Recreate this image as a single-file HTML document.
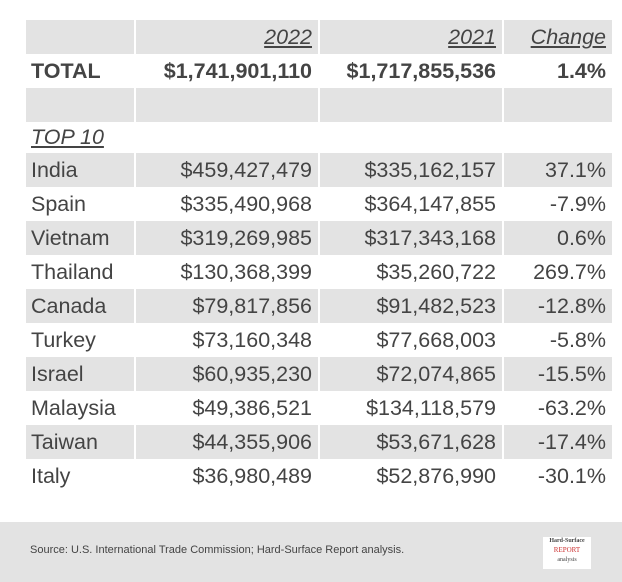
<!DOCTYPE html>
<html><head><style>
body{margin:0;width:622px;height:582px;background:#fff;position:relative;overflow:hidden;font-family:"Liberation Sans",Arial,sans-serif;color:#444}
.r{position:absolute;left:26px;width:586px;height:34px}
.c{position:absolute;top:0;height:34px;line-height:34px;font-size:21.5px;box-sizing:border-box;white-space:nowrap}
.g .c{background:#e3e3e3}
.c1{left:0;width:108px;padding-left:5px}
.c2{left:110px;width:182px;text-align:right;padding-right:6px}
.c3{left:294px;width:182px;text-align:right;padding-right:6px}
.c4{left:478px;width:108px;text-align:right;padding-right:6px}
.b{font-weight:bold}
.u{text-decoration:underline;font-style:italic}
#f{position:absolute;left:0;top:522px;width:622px;height:60px;background:#e3e3e3}
#f span{position:absolute;left:30px;top:22px;font-size:11px;color:#444}
#logo{position:absolute;left:543px;top:15px;width:48px;height:32px;background:#fff;font-size:6px;text-align:center;line-height:9px;font-family:"Liberation Serif",serif}
</style></head><body>
<div class="r g" style="top:20px"><div class="c c1"></div><div class="c c2 u">2022</div><div class="c c3 u">2021</div><div class="c c4 u">Change</div></div>
<div class="r b" style="top:54px"><div class="c c1 b">TOTAL</div><div class="c c2 b">$1,741,901,110</div><div class="c c3 b">$1,717,855,536</div><div class="c c4 b">1.4%</div></div>
<div class="r g" style="top:88px"><div class="c c1"></div><div class="c c2"></div><div class="c c3"></div><div class="c c4"></div></div>
<div class="r" style="top:120px"><div class="c c1 u">TOP 10</div></div>
<div class="r g" style="top:153px"><div class="c c1">India</div><div class="c c2">$459,427,479</div><div class="c c3">$335,162,157</div><div class="c c4">37.1%</div></div>
<div class="r" style="top:187px"><div class="c c1">Spain</div><div class="c c2">$335,490,968</div><div class="c c3">$364,147,855</div><div class="c c4">-7.9%</div></div>
<div class="r g" style="top:221px"><div class="c c1">Vietnam</div><div class="c c2">$319,269,985</div><div class="c c3">$317,343,168</div><div class="c c4">0.6%</div></div>
<div class="r" style="top:255px"><div class="c c1">Thailand</div><div class="c c2">$130,368,399</div><div class="c c3">$35,260,722</div><div class="c c4">269.7%</div></div>
<div class="r g" style="top:289px"><div class="c c1">Canada</div><div class="c c2">$79,817,856</div><div class="c c3">$91,482,523</div><div class="c c4">-12.8%</div></div>
<div class="r" style="top:323px"><div class="c c1">Turkey</div><div class="c c2">$73,160,348</div><div class="c c3">$77,668,003</div><div class="c c4">-5.8%</div></div>
<div class="r g" style="top:357px"><div class="c c1">Israel</div><div class="c c2">$60,935,230</div><div class="c c3">$72,074,865</div><div class="c c4">-15.5%</div></div>
<div class="r" style="top:391px"><div class="c c1">Malaysia</div><div class="c c2">$49,386,521</div><div class="c c3">$134,118,579</div><div class="c c4">-63.2%</div></div>
<div class="r g" style="top:425px"><div class="c c1">Taiwan</div><div class="c c2">$44,355,906</div><div class="c c3">$53,671,628</div><div class="c c4">-17.4%</div></div>
<div class="r" style="top:459px"><div class="c c1">Italy</div><div class="c c2">$36,980,489</div><div class="c c3">$52,876,990</div><div class="c c4">-30.1%</div></div>
<div id="f"><span>Source: U.S. International Trade Commission; Hard-Surface Report analysis.</span>
<div id="logo"><b>Hard-Surface</b><br><span style="position:static;color:#c33;font-size:7px">REPORT</span><br>analysis</div></div>
</body></html>
